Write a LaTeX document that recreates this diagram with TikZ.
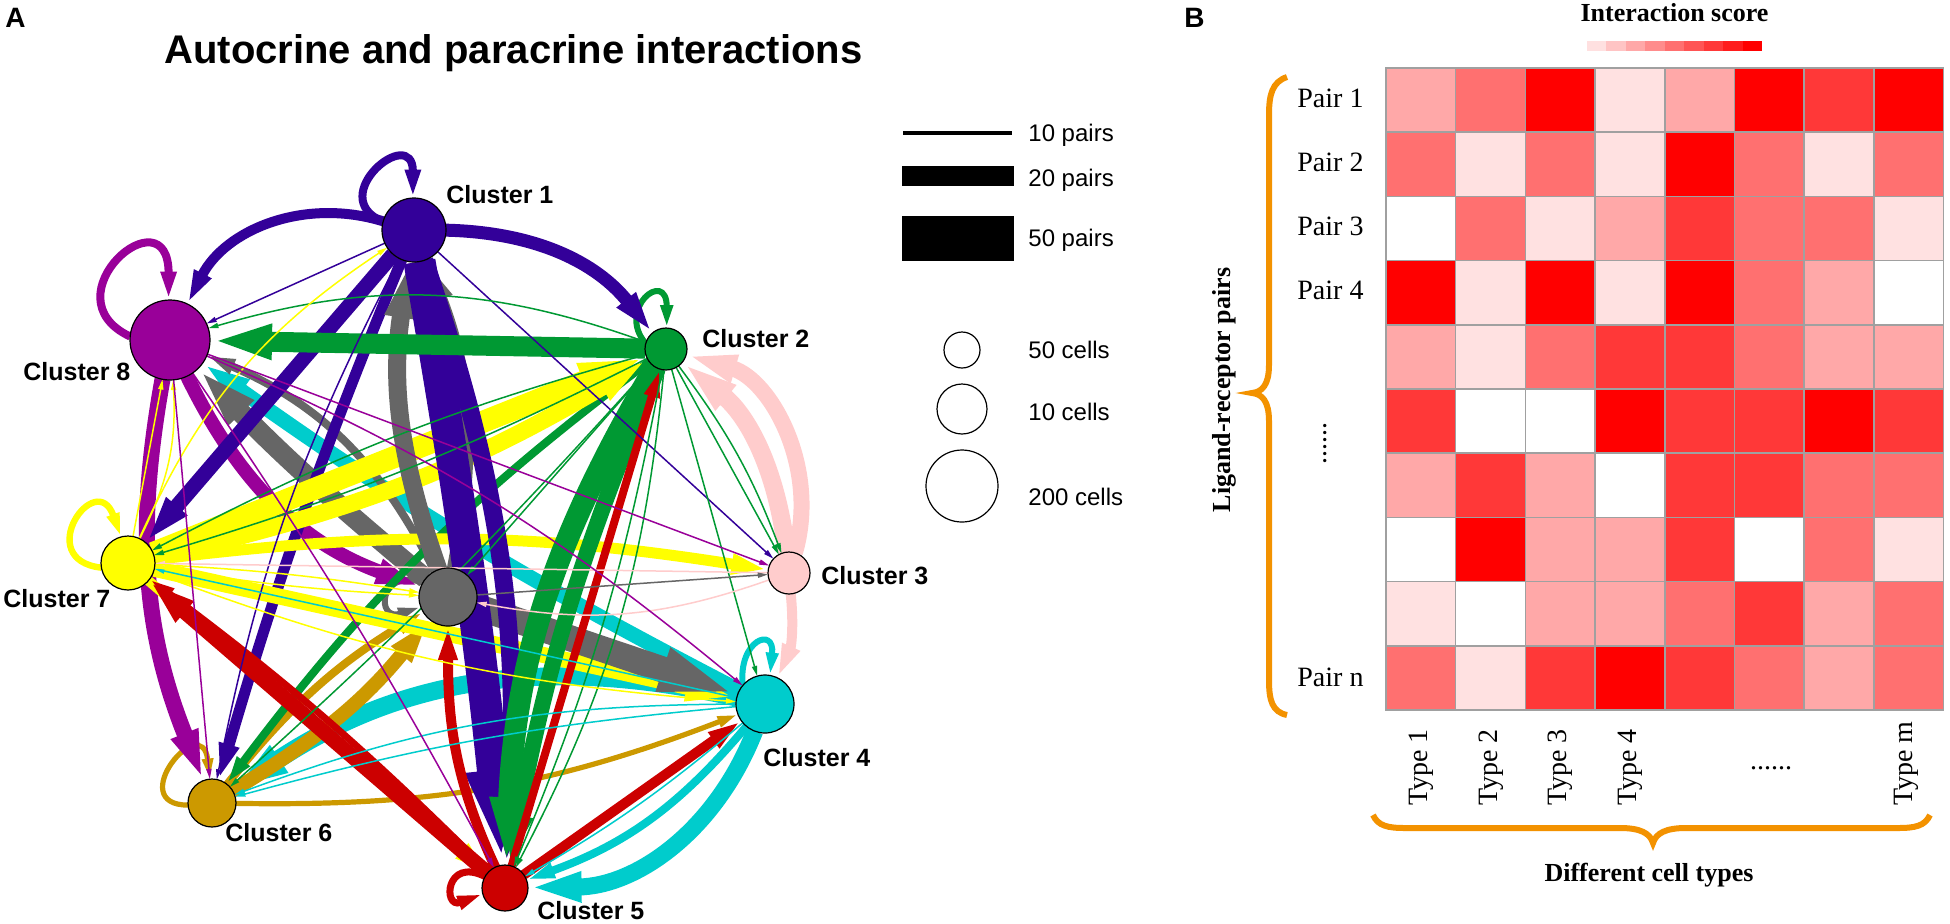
\documentclass[tikz,border=0pt]{standalone}
\usepackage{fontspec}
\setmainfont{Liberation Serif}
\newfontfamily\arial{Liberation Sans}
\usetikzlibrary{arrows.meta}
\pgfdeclarelayer{bgl}
\pgfdeclarelayer{edges}
\pgfsetlayers{bgl,edges,main}
\definecolor{c1col}{HTML}{330099}
\definecolor{c2col}{HTML}{009933}
\definecolor{c3col}{HTML}{FFCCCC}
\definecolor{c4col}{HTML}{00CCCC}
\definecolor{c5col}{HTML}{CC0000}
\definecolor{c6col}{HTML}{CC9900}
\definecolor{c7col}{HTML}{FFFF00}
\definecolor{c8col}{HTML}{990099}
\definecolor{gcol}{HTML}{666666}
\definecolor{hw}{HTML}{FFFFFF}
\definecolor{hv}{HTML}{FFE1E1}
\definecolor{hl}{HTML}{FFA8A8}
\definecolor{hm}{HTML}{FF7070}
\definecolor{hh}{HTML}{FF3838}
\definecolor{hr}{HTML}{FF0000}
\definecolor{gridgray}{HTML}{A0A0A0}
\definecolor{brace}{HTML}{F39200}
\begin{document}
\begin{tikzpicture}[x=0.5pt,y=0.5pt,
  cl/.style={circle, draw=black, line width=0.6pt, inner sep=0pt, outer sep=0pt, minimum size=#1},
  ed/.style={draw=#1, -{Triangle[length=3pt 2.8, width=1.5pt 1.4]}},
  lab/.style={font=\arial\bfseries\fontsize{12.5}{15}\selectfont, anchor=base west, inner sep=0pt},
  leg/.style={font=\arial\fontsize{12}{14}\selectfont, anchor=base west, inner sep=0pt},
  tms/.style={font=\fontsize{14}{16}\selectfont, inner sep=0pt},
  tmsb/.style={font=\bfseries\fontsize{13}{15}\selectfont, inner sep=0pt}]
\useasboundingbox (0,0) rectangle (1950,-923);
\begin{pgfonlayer}{bgl}
\fill[white] (0,0) rectangle (1950,-923);
\end{pgfonlayer}

% ---------- Panel A ----------
\node[font=\arial\bfseries\fontsize{14}{16}\selectfont, anchor=base west, inner sep=0pt] (labA) at (5,-27) {A};
\node[font=\arial\bfseries\fontsize{20}{24}\selectfont, anchor=base, inner sep=0pt] (title) at (513.5,-63) {Autocrine and paracrine interactions};

\node[cl=32pt, fill=c1col] (c1) at (414,-230) {};
\node[cl=21pt, fill=c2col] (c2) at (666,-349) {};
\node[cl=21pt, fill=c3col] (c3) at (789,-573) {};
\node[cl=29pt, fill=c4col] (c4) at (765,-704) {};
\node[cl=23pt, fill=c5col] (c5) at (505,-888) {};
\node[cl=24pt, fill=c6col] (c6) at (212,-803) {};
\node[cl=27pt, fill=c7col] (c7) at (128,-563) {};
\node[cl=40pt, fill=c8col] (c8) at (170,-340) {};
\node[cl=29pt, fill=gcol] (g) at (448,-597) {};

\node[lab] (l1) at (446,-203) {Cluster 1};
\node[lab] (l2) at (702,-347) {Cluster 2};
\node[lab] (l3) at (821,-584) {Cluster 3};
\node[lab] (l4) at (763,-766) {Cluster 4};
\node[lab] (l5) at (537,-919) {Cluster 5};
\node[lab] (l6) at (225,-841) {Cluster 6};
\node[lab] (l7) at (3,-607) {Cluster 7};
\node[lab] (l8) at (23,-380) {Cluster 8};

\begin{pgfonlayer}{edges}
% self loops
\draw[ed=c1col, line width=4pt] (c1.165) .. controls +(-60,25) and +(0,75) .. (c1.92);
\draw[ed=c2col, line width=3pt] (c2.165) .. controls +(-30,35) and +(0,60) .. (c2.88);
\draw[ed=c8col, line width=4pt] (c8.175) .. controls +(-85,40) and +(0,110) .. (c8.92);
\draw[ed=c7col, line width=3.2pt] (c7.190) .. controls +(-70,8) and +(-25,70) .. (c7.105);
\draw[ed=c6col, line width=2.6pt] (c6.185) .. controls +(-65,0) and +(-8,70) .. (c6.95);
\draw[ed=c4col, line width=3pt] (c4.140) .. controls +(-5,45) and +(5,50) .. (c4.80);
\draw[ed=c5col, line width=3.5pt] (c5.150) .. controls +(-40,20) and +(-40,-15) .. (c5.195);
\draw[ed=gcol, line width=3pt] (g.150) .. controls +(-45,15) and +(-45,-15) .. (g.200);
% thick edges
\draw[ed=c1col, line width=5pt, bend right=40] (c1) to (c8);
\draw[ed=c1col, line width=6.5pt, bend left=25] (c1) to (c2);
\draw[ed=c3col, line width=9pt, bend right=22] (c3) to (c2);
\draw[ed=c3col, line width=8pt, bend right=45] (c3) to (c2);
\draw[ed=c3col, line width=5pt, bend left=15] (c3) to (c4);
\draw[ed=c8col, line width=8pt, bend right=16] (c8) to (c6);
\draw[ed=c8col, line width=7pt, bend right=22] (c8) to (g);
\draw[ed=c4col, line width=7.5pt, bend left=4] (c4) to (c8);
\draw[ed=gcol, line width=10pt, bend left=3] (g) to (c8);
\draw[ed=gcol, line width=4pt, bend right=20] (g) to (c8);
\draw[ed=c4col, line width=8.5pt, bend left=34] (c4) to (c5);
\draw[ed=c4col, line width=4pt, bend left=15] (c4) to (c5);
\draw[ed=c4col, line width=9pt, bend right=23] (c4) to (c6);
\draw[ed=c6col, line width=2.6pt, bend right=11] (c6) to (c4);
\draw[ed=c6col, line width=7pt, bend right=10] (c6) to (g);
\draw[ed=c6col, line width=4pt, bend left=10] (c6) to (g);
\draw[ed=c2col, line width=4pt, bend right=8] (c2) to (c6);
\draw[ed=c1col, line width=5.5pt, bend right=3] (c1) to (c6);
\draw[ed=c7col, line width=11pt] (c7) to (c2);
\draw[ed=c7col, line width=8.5pt, bend right=9] (c7) to (c2);
\draw[ed=c7col, line width=5.5pt, bend left=8] (c7) to (c3);
\draw[ed=c7col, line width=8pt] (c7) to (c4);
\draw[ed=c7col, line width=5pt] (c7) to (c5);
\draw[ed=gcol, line width=9pt, bend left=14] (g) to (c1);
\draw[ed=gcol, line width=6.5pt, bend right=16] (g) to (c1);
\draw[ed=gcol, line width=13pt] (g) to (c4);
\draw[ed=c1col, line width=7.5pt] (c1) to (c7);
\draw[ed=c1col, line width=9pt, bend left=11] (c1) to (c5);
\draw[ed=c1col, line width=16pt, bend left=2] (c1) to (c5);
\draw[ed=c2col, line width=10pt] (c2) to (c8);
\draw[ed=c2col, line width=11pt, bend right=14] (c2) to (c5);
\draw[ed=c2col, line width=8pt, bend right=6] (c2) to (c5);
\draw[ed=c5col, line width=7.5pt] (c5) to (c7);
\draw[ed=c5col, line width=3.5pt, bend right=4] (c5) to (c7);
\draw[ed=c5col, line width=5pt] (c5) to[out=115, in=-90] (g);
\draw[ed=c5col, line width=4pt] (c5) to (c2);
\draw[ed=c5col, line width=5pt] (c5) to (c4);
% thin edges
\draw[ed=c1col, line width=0.75pt] (c1) to (c8);
\draw[ed=c1col, line width=0.75pt, bend right=8] (c1) to (c6);
\draw[ed=c1col, line width=0.75pt] (c1) to (c3);
\draw[ed=c2col, line width=0.75pt, bend right=18] (c2) to (c8);
\draw[ed=c2col, line width=0.75pt, bend left=3] (c2) to (c6);
\draw[ed=c2col, line width=0.75pt, bend left=5] (c2) to (c7);
\draw[ed=c2col, line width=0.75pt, bend right=6] (c2) to (c7);
\draw[ed=c2col, line width=0.75pt] (c2) to (c3);
\draw[ed=c2col, line width=0.75pt, bend left=8] (c2) to (c3);
\draw[ed=c2col, line width=0.75pt] (c2) to (c4);
\draw[ed=c2col, line width=0.75pt, bend left=6] (c2) to (c5);
\draw[ed=c2col, line width=0.75pt, bend left=11] (c2) to (c5);
\draw[ed=c2col, line width=0.75pt] (c2) to (g);
\draw[ed=c3col, line width=0.75pt] (c3) to (c7);
\draw[ed=c3col, line width=0.75pt, bend left=15] (c3) to (g);
\draw[ed=c4col, line width=0.75pt, bend right=10] (c4) to (c6);
\draw[ed=c4col, line width=0.75pt, bend right=5] (c4) to (c6);
\draw[ed=c4col, line width=0.75pt, bend left=5] (c4) to (c5);
\draw[ed=c4col, line width=0.75pt] (c4) to (c7);
\draw[ed=c7col, line width=0.75pt] (c7) to (c8);
\draw[ed=c7col, line width=0.75pt, bend right=15] (c7) to (c8);
\draw[ed=c7col, line width=0.75pt, bend left=16] (c7) to (c1);
\draw[ed=c7col, line width=0.75pt, bend left=3] (c7) to (g);
\draw[ed=c7col, line width=0.75pt, bend right=3] (c7) to (g);
\draw[ed=c7col, line width=0.75pt, bend right=8] (c7) to (c4);
\draw[ed=c8col, line width=0.75pt] (c8) to (c6);
\draw[ed=c8col, line width=0.75pt] (c8) to (c3);
\draw[ed=c8col, line width=0.75pt, bend left=8] (c8) to (c4);
\draw[ed=c8col, line width=0.75pt, bend left=3] (c8) to (c5);
\draw[ed=gcol, line width=0.75pt] (g) to (c3);
\end{pgfonlayer}

% legend
\draw[line width=2.35pt] (903,-133) -- (1012,-133);
\fill (902,-166) rectangle (1014,-186);
\fill (902,-216) rectangle (1014,-261);
\node[leg] (lp10) at (1028,-141) {10 pairs};
\node[leg] (lp20) at (1028,-186) {20 pairs};
\node[leg] (lp50) at (1028,-246) {50 pairs};
\draw[line width=0.6pt] (962,-350) circle[radius=9pt];
\draw[line width=0.6pt] (962,-409) circle[radius=12.5pt];
\draw[line width=0.6pt] (962,-486) circle[radius=18pt];
\node[leg] (lc50) at (1028,-358) {50 cells};
\node[leg] (lc10) at (1028,-420) {10 cells};
\node[leg] (lc200) at (1028,-505) {200 cells};

% ---------- Panel B ----------
\node[font=\arial\bfseries\fontsize{14}{16}\selectfont, anchor=base west, inner sep=0pt] (labB) at (1184,-27) {B};
\node[tmsb, anchor=base] (iscore) at (1674.5,-21.7) {Interaction score};
\foreach \k [count=\n from 0] in {12,23,34,45,56,67,78,89,100}
  \fill[red!\k] ({1587+\n*19.44},-41) rectangle ++(19.6,-10);

\foreach \row [count=\i] in {{l,m,r,v,l,r,h,r},{m,v,m,v,r,m,v,m},{w,m,v,l,h,m,m,v},{r,v,r,v,r,m,l,w},{l,v,m,h,h,m,l,l},{h,w,w,r,h,h,r,h},{l,h,l,w,h,h,m,m},{w,r,l,l,h,w,m,v},{v,w,l,l,m,h,l,m},{m,v,h,r,h,m,l,m}}
  \foreach \c [count=\j] in \row
    \filldraw[fill=h\c, draw=gridgray, line width=0.75pt] ({1386+(\j-1)*69.7},{-68-(\i-1)*64.2}) rectangle ++(69.7,-64.2);

\node[tms, anchor=base west] (p1) at (1297,-107) {Pair 1};
\node[tms, anchor=base west] (p2) at (1297,-171.3) {Pair 2};
\node[tms, anchor=base west] (p3) at (1297,-235.5) {Pair 3};
\node[tms, anchor=base west] (p4) at (1297,-299.7) {Pair 4};
\node[tms, anchor=base west] (pn) at (1297,-686.6) {Pair n};
\node[tms, rotate=90] (vdots) at (1325,-443) {......};

\draw[brace, line width=3pt] (1287,-77) .. controls (1272,-82) and (1269,-95) .. (1269,-115)
  -- (1269,-365) .. controls (1269,-385) and (1262,-392) .. (1252,-393)
  .. controls (1262,-394) and (1269,-401) .. (1269,-421)
  -- (1269,-680) .. controls (1269,-700) and (1272,-712) .. (1287,-715);
\node[tmsb, rotate=90] (lrp) at (1224,-390) {Ligand-receptor pairs};

\node[tms, rotate=90, anchor=west] (t1) at (1421,-806) {Type 1};
\node[tms, rotate=90, anchor=west] (t2) at (1491,-806) {Type 2};
\node[tms, rotate=90, anchor=west] (t3) at (1560,-806) {Type 3};
\node[tms, rotate=90, anchor=west] (t4) at (1630,-806) {Type 4};
\node[tms] (hdots) at (1771,-768) {......};
\node[tms, rotate=90, anchor=west] (tm) at (1906,-806) {Type m};

\draw[brace, line width=3pt] (1373,-815) .. controls (1378,-826) and (1388,-828) .. (1405,-828)
  -- (1620,-828) .. controls (1640,-828) and (1650,-833) .. (1653,-843)
  .. controls (1656,-833) and (1666,-828) .. (1686,-828)
  -- (1898,-828) .. controls (1915,-828) and (1925,-826) .. (1930,-815);
\node[tmsb, anchor=base] (dct) at (1649,-881) {Different cell types};
\end{tikzpicture}
\end{document}
